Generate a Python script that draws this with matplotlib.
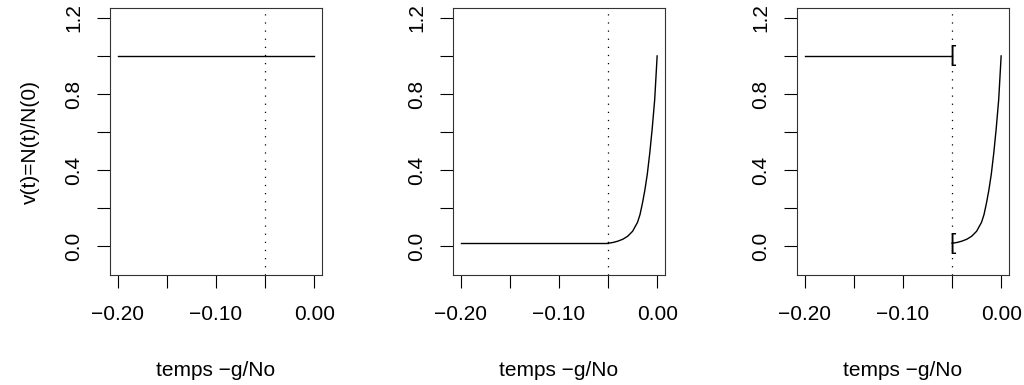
import numpy as np
import matplotlib
matplotlib.use("Agg")
import matplotlib.pyplot as plt

plt.rcParams['font.family'] = ['Liberation Sans', 'DejaVu Sans']

# data
t_start = -0.20
t_end = 0.00
t_cut = -0.05
v_high = 1.0
v_low = 0.015

# rising part after the cut (panels 2 and 3)
curve_t = [-0.05, -0.045, -0.04, -0.035, -0.03, -0.025, -0.02, -0.0175,
           -0.015, -0.0125, -0.01, -0.0075, -0.005, -0.0025, 0.0]
curve_v = [0.015, 0.019, 0.026, 0.036, 0.052, 0.078, 0.125, 0.165,
           0.225, 0.295, 0.38, 0.49, 0.62, 0.77, 1.0]

bracket_v = [v_high, v_low]

xticks = [-0.20, -0.15, -0.10, -0.05, 0.00]
xlabels = ['\u22120.20', '', '\u22120.10', '', '0.00']
yticks = [0.0, 0.2, 0.4, 0.6, 0.8, 1.0, 1.2]
ylabels = ['0.0', '', '0.4', '', '0.8', '', '1.2']

xlabel = 'temps \u2212g/No'
ylabel = 'v(t)=N(t)/N(0)'

fig = plt.figure(figsize=(10.24, 3.85), dpi=100)
lefts = [110 / 1024, 453 / 1024, 797 / 1024]
bottom = 1 - 275 / 385
height = (275 - 8) / 385
width = 212 / 1024
axes = [fig.add_axes([l, bottom, width, height]) for l in lefts]

def style(ax):
    pad_x = 0.04 * (t_end - t_start)
    ax.set_xlim(t_start - pad_x, t_end + pad_x)
    ax.set_ylim(-0.1 - 0.052, 1.2 + 0.052)
    ax.set_xticks(xticks)
    ax.set_xticklabels(xlabels)
    ax.set_yticks(yticks)
    ax.set_yticklabels(ylabels)
    ax.tick_params(direction='out', length=9.5, width=0.8, labelsize=15,
                   color='black')
    ax.tick_params(axis='x', pad=12)
    ax.tick_params(axis='y', pad=10, labelrotation=90)
    for lab in ax.get_yticklabels():
        lab.set_va('center')
    for s in ax.spines.values():
        s.set_linewidth(0.8)
        s.set_color('#333333')
    ax.axvline(t_cut, color='black', lw=0.9, linestyle=(0, (1, 5.5)))
    ax.set_xlabel(xlabel, fontsize=15, labelpad=27)

for ax in axes:
    style(ax)

axes[0].set_ylabel(ylabel, fontsize=15, labelpad=17)

# panel 1: constant
axes[0].plot([t_start, t_end], [v_high, v_high], color='black', lw=1.0)

# panel 2: flat low then rise
axes[1].plot([t_start, t_cut], [v_low, v_low], color='black', lw=1.0)
axes[1].plot(curve_t, curve_v, color='black', lw=1.0)

# panel 3: constant, jump down, rise
axes[2].plot([t_start, t_cut], [v_high, v_high], color='black', lw=1.0)
axes[2].plot(curve_t, curve_v, color='black', lw=1.0)
for v in bracket_v:
    axes[2].annotate('[', (t_cut, v), xytext=(-1.8, 0), textcoords='offset points',
                     ha='left', va='center', fontsize=16)

fig.savefig('out.png', dpi=100)
